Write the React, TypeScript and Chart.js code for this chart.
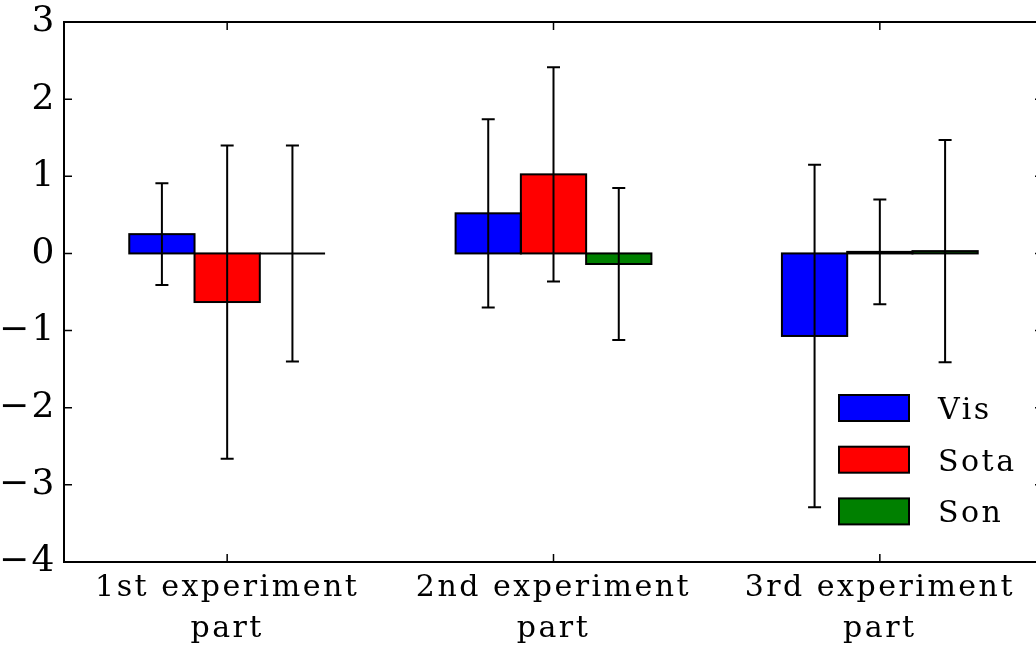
import React, { useEffect, useRef } from "react";
import { Chart, registerables } from "chart.js";

Chart.register(...registerables);

const categories: string[][] = [
  ["1st experiment", "part"],
  ["2nd experiment", "part"],
  ["3rd experiment", "part"],
];
const seriesNames = ["Vis", "Sota", "Son"];
const seriesColors = ["#0000ff", "#ff0000", "#008000"];
const visValues = [0.25, 0.52, -1.07];
const visErrors = [0.66, 1.22, 2.22];
const sotaValues = [-0.63, 1.025, 0.02];
const sotaErrors = [2.03, 1.39, 0.68];
const sonValues = [0.0, -0.137, 0.03];
const sonErrors = [1.4, 0.985, 1.44];
const yTicks = [-4, -3, -2, -1, 0, 1, 2, 3];

const allErrors = [visErrors, sotaErrors, sonErrors];
const FONT = "'DejaVu Serif', serif";

const spacingPlugin = {
  id: "spacing",
  beforeDraw(chart: any) {
    (chart.ctx as any).letterSpacing = "2.5px";
  },
};

const outlinePlugin = {
  id: "outlines",
  afterDatasetsDraw(chart: any) {
    const ctx = chart.ctx;
    const yScale = chart.scales.y;
    ctx.save();
    chart.data.datasets.forEach((ds: any, di: number) => {
      const meta = chart.getDatasetMeta(di);
      meta.data.forEach((bar: any, i: number) => {
        const { x, y, base, width } = bar.getProps(["x", "y", "base", "width"], true);
        ctx.strokeStyle = "#000";
        ctx.lineWidth = 2;
        const top = Math.min(y, base);
        const h = Math.abs(base - y);
        ctx.strokeRect(x - width / 2, top, width, h);
        // error bar
        const v = ds.data[i];
        const e = allErrors[di][i];
        const yHi = yScale.getPixelForValue(v + e);
        const yLo = yScale.getPixelForValue(v - e);
        ctx.lineWidth = 2;
        ctx.beginPath();
        ctx.moveTo(x, yHi);
        ctx.lineTo(x, yLo);
        ctx.moveTo(x - 6.5, yHi);
        ctx.lineTo(x + 6.5, yHi);
        ctx.moveTo(x - 6.5, yLo);
        ctx.lineTo(x + 6.5, yLo);
        ctx.stroke();
      });
    });
    ctx.restore();
  },
};

const framePlugin = {
  id: "frame",
  afterDraw(chart: any) {
    const ctx = chart.ctx;
    const { left, right, top, bottom } = chart.chartArea;
    const xScale = chart.scales.x;
    const yScale = chart.scales.y;
    ctx.save();
    ctx.strokeStyle = "#000";
    ctx.lineWidth = 1.5;
    ctx.beginPath();
    yTicks.forEach((t) => {
      const py = yScale.getPixelForValue(t);
      ctx.moveTo(left, py);
      ctx.lineTo(left + 8, py);
      ctx.moveTo(right, py);
      ctx.lineTo(right - 8, py);
    });
    categories.forEach((_, i) => {
      const px = xScale.getPixelForValue(i);
      ctx.moveTo(px, bottom);
      ctx.lineTo(px, bottom - 8);
      ctx.moveTo(px, top);
      ctx.lineTo(px, top + 8);
    });
    ctx.stroke();
    ctx.lineWidth = 2;
    ctx.strokeRect(left, top, right - left, bottom - top);

    // legend
    const boxLeft = right - 204;
    const boxW = 70;
    const boxH = 26;
    const firstTop = bottom - 167;
    const step = 51.7;
    ctx.font = `30px ${FONT}`;
    ctx.textAlign = "left";
    ctx.textBaseline = "alphabetic";
    ctx.fillStyle = "#000";
    (ctx as any).letterSpacing = "2.5px";
    seriesNames.forEach((name, i) => {
      const by = firstTop + i * step;
      ctx.fillStyle = seriesColors[i];
      ctx.fillRect(boxLeft, by, boxW, boxH);
      ctx.lineWidth = 2;
      ctx.strokeStyle = "#000";
      ctx.strokeRect(boxLeft, by, boxW, boxH);
      ctx.fillStyle = "#000";
      ctx.fillText(name, boxLeft + 99, by + boxH / 2 + 11);
    });
    ctx.restore();
  },
};

export default function App() {
  const canvasRef = useRef<HTMLCanvasElement | null>(null);

  useEffect(() => {
    if (!canvasRef.current) return;
    const values = [visValues, sotaValues, sonValues];
    const chart = new Chart(canvasRef.current, {
      type: "bar",
      data: {
        labels: categories,
        datasets: seriesNames.map((name, i) => ({
          label: name,
          data: values[i],
          backgroundColor: seriesColors[i],
          borderWidth: 0,
          categoryPercentage: 0.6,
          barPercentage: 1.0,
        })),
      },
      options: {
        animation: false,
        responsive: true,
        maintainAspectRatio: false,
        devicePixelRatio: 1,
        layout: { padding: { top: 22, left: 0, right: 0, bottom: 0 } },
        plugins: {
          legend: { display: false },
          tooltip: { enabled: false },
        },
        scales: {
          x: {
            type: "category",
            offset: true,
            grid: { display: false, drawTicks: false },
            border: { display: false },
            ticks: {
              color: "#000",
              font: { family: FONT, size: 30, lineHeight: 1.37 },
              padding: 6,
              maxRotation: 0,
              autoSkip: false,
            },
            afterFit: (scale: any) => {
              scale.height = 85;
              scale.paddingLeft = 0;
              scale.paddingRight = 0;
            },
          },
          y: {
            min: -4,
            max: 3,
            grid: { display: false, drawTicks: false },
            border: { display: false },
            ticks: {
              stepSize: 1,
              color: "#000",
              font: { family: FONT, size: 36, lineHeight: 1.0 },
              padding: 7,
              callback: (v: any) => (Number(v) < 0 ? "\u2212" + Math.abs(Number(v)) : String(v)),
            },
            afterFit: (scale: any) => {
              scale.width = 64;
              scale.paddingTop = 0;
              scale.paddingBottom = 0;
            },
          },
        },
      },
      plugins: [spacingPlugin, outlinePlugin, framePlugin],
    });
    return () => chart.destroy();
  }, []);

  return (
    <div
      style={{
        position: "absolute",
        left: 0,
        top: 0,
        width: 1036,
        height: 647,
        overflow: "hidden",
        background: "#fff",
      }}
    >
      <div style={{ position: "relative", width: 1043, height: 647 }}>
        <canvas ref={canvasRef} />
      </div>
    </div>
  );
}
